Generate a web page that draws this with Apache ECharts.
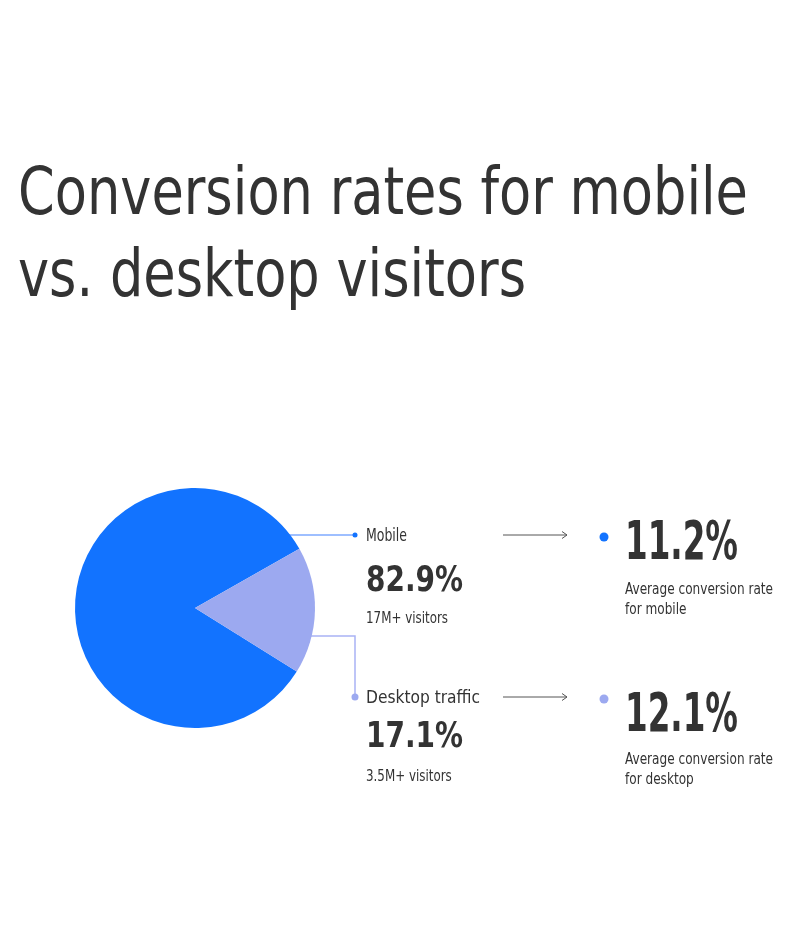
<!DOCTYPE html>
<html>
<head>
<meta charset="utf-8">
<script src="https://cdn.jsdelivr.net/npm/echarts@6/dist/echarts.min.js"></script>
<style>
  html, body { margin: 0; padding: 0; background: #fff; }
  #chart { width: 796px; height: 940px; }
</style>
</head>
<body>
<div id="chart"></div>
<script>
// data
var titleLines = ['Conversion rates for mobile', 'vs. desktop visitors'];
var categories = ['Mobile', 'Desktop traffic'];
var shares = [82.9, 17.1];
var visitors = ['17M+ visitors', '3.5M+ visitors'];
var conversion = [11.2, 12.1];
var conversionNotes = ['Average conversion rate\nfor mobile', 'Average conversion rate\nfor desktop'];
var colors = ['#1273ff', '#9ca9f0'];
var lineColors = ['#7eaaff', '#a9b3f5'];

// the original face is narrow, so we squeeze a condensed one to the measured widths
var FONT = '"Liberation Sans Narrow", "DejaVu Sans Condensed", Roboto, sans-serif';
var INK = '#333333';

var cx = 195, cy = 608, R = 120;

var measureCtx = document.createElement('canvas').getContext('2d');
function fontStr(size, weight) {
    return (weight || 'normal') + ' ' + size + 'px ' + FONT;
}
function squeeze(s, size, weight, width) {
    measureCtx.font = fontStr(size, weight);
    var w = measureCtx.measureText(s.split('\n')[0]).width;
    return Math.min(1, width / w);
}

var chart = echarts.init(document.getElementById('chart'), null, { renderer: 'canvas' });

function txt(x, y, s, size, weight, sx, lh) {
    return {
        type: 'text',
        x: x, y: y,
        scaleX: sx || 1,
        silent: true,
        style: {
            text: s,
            fill: INK,
            font: fontStr(size, weight),
            fontSize: size,
            fontWeight: weight || 'normal',
            fontFamily: FONT,
            lineHeight: lh || size * 1.2,
            textAlign: 'left', align: 'left',
            textVerticalAlign: 'middle', verticalAlign: 'middle'
        }
    };
}

function arrow(x1, x2, y) {
    return [
        { type: 'line', silent: true, shape: { x1: x1, y1: y, x2: x2, y2: y }, style: { stroke: '#555', lineWidth: 1 } },
        { type: 'polyline', silent: true, shape: { points: [[x2 - 5, y - 3.5], [x2, y], [x2 - 5, y + 3.5]] }, style: { stroke: '#555', lineWidth: 1, fill: null } }
    ];
}

var g = [];
// title
var sTitle = squeeze(titleLines[0], 65, 'normal', 730);
g.push(txt(18, 197, titleLines[0], 65, 'normal', sTitle));
g.push(txt(18, 279, titleLines[1], 65, 'normal', sTitle));

// connectors (drawn under the pie, so they start at its edge)
var yMob = cy - 73, yDesk = cy + 28, xHook = 355;
g.push({ type: 'line', z: 0, silent: true, shape: { x1: cx, y1: yMob, x2: xHook, y2: yMob }, style: { stroke: lineColors[0], lineWidth: 1.5 } });
g.push({ type: 'circle', silent: true, shape: { cx: xHook, cy: yMob, r: 2.5 }, style: { fill: colors[0] } });
g.push({ type: 'polyline', z: 0, silent: true, shape: { points: [[cx, yDesk], [xHook, yDesk], [xHook, 697]] }, style: { stroke: lineColors[1], lineWidth: 1.5, fill: null } });
g.push({ type: 'circle', silent: true, shape: { cx: xHook, cy: 697, r: 3.5 }, style: { fill: colors[1] } });

// middle column
var sSmall = squeeze(visitors[0], 15, 'normal', 82);
var sBig = squeeze(shares[0].toFixed(1) + '%', 36, 'bold', 97);
g.push(txt(366, 537, categories[0], 17, 'normal', squeeze(categories[0], 17, 'normal', 41)));
g.push(txt(366, 582, shares[0].toFixed(1) + '%', 36, 'bold', sBig));
g.push(txt(366, 619, visitors[0], 15, 'normal', sSmall));
g.push(txt(366, 698, categories[1], 18, 'normal', squeeze(categories[1], 18, 'normal', 114)));
g.push(txt(366, 738, shares[1].toFixed(1) + '%', 36, 'bold', sBig));
g.push(txt(366, 777, visitors[1], 15, 'normal', sSmall));

// arrows
g = g.concat(arrow(503, 567, 535));
g = g.concat(arrow(503, 567, 697));

// right column
var sHuge = squeeze(conversion[0].toFixed(1) + '%', 54, 'bold', 113);
var sNote = squeeze(conversionNotes[0], 15, 'normal', 148);
g.push({ type: 'circle', silent: true, shape: { cx: 604, cy: 537, r: 4.5 }, style: { fill: colors[0] } });
g.push({ type: 'circle', silent: true, shape: { cx: 604, cy: 699, r: 4.5 }, style: { fill: colors[1] } });
g.push(txt(625, 545, conversion[0].toFixed(1) + '%', 54, 'bold', sHuge));
g.push(txt(625, 600, conversionNotes[0], 15, 'normal', sNote, 19.5));
g.push(txt(625, 717, conversion[1].toFixed(1) + '%', 54, 'bold', sHuge));
g.push(txt(625, 770, conversionNotes[1], 15, 'normal', sNote, 19.5));

chart.setOption({
    backgroundColor: '#ffffff',
    animation: false,
    graphic: { elements: g },
    series: [{
        type: 'pie',
        z: 2,
        center: [cx, cy],
        radius: R,
        startAngle: -32,
        clockwise: true,
        silent: true,
        label: { show: false },
        labelLine: { show: false },
        emphasis: { disabled: true },
        itemStyle: { borderWidth: 0 },
        data: categories.map(function (c, i) {
            return { name: c, value: shares[i], itemStyle: { color: colors[i] } };
        })
    }]
});
</script>
</body>
</html>
